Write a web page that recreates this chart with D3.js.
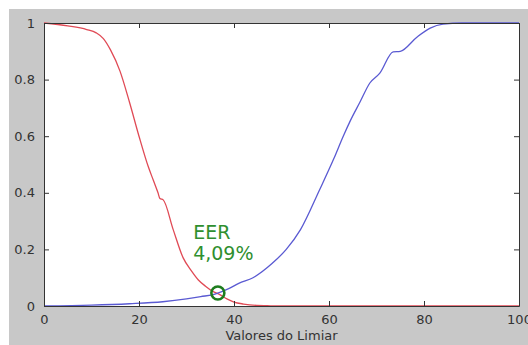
<!DOCTYPE html>
<html lang="en">
<head>
<meta charset="UTF-8">
<script src="https://d3js.org/d3.v7.min.js"></script>
<title>EER</title>
<style>
    body { margin: 0; background: #fff; }
    text { font-family: "DejaVu Sans", sans-serif; }
    .tick text { font-size: 13px; fill: #333; }
</style>
</head>
<body>
<script>
    // curve values
    const redX = [0, 5, 9, 11, 12.5, 14, 16, 18, 20, 22, 23, 24, 24.4, 25.1, 27.2, 29.3, 31, 32.5, 34, 35.5, 37, 38.5, 40, 42, 44.8, 47, 50, 100];
    const redY = [1.0, 0.99, 0.977, 0.965, 0.945, 0.905, 0.83, 0.72, 0.6, 0.49, 0.445, 0.4, 0.38, 0.375, 0.27, 0.17, 0.125, 0.092, 0.07, 0.052, 0.04, 0.025, 0.014, 0.007, 0.002, 0.001, 0, 0];
    const blueX = [0, 10, 18, 25, 30, 33, 36, 39, 41, 44, 48, 51, 54, 58, 61, 63, 64.5, 66.5, 68.6, 70.7, 73.5, 75, 78.5, 81.3, 84, 88, 100];
    const blueY = [0, 0.003, 0.008, 0.015, 0.025, 0.033, 0.042, 0.062, 0.08, 0.1, 0.15, 0.2, 0.27, 0.41, 0.52, 0.6, 0.655, 0.72, 0.788, 0.823, 0.898, 0.9, 0.95, 0.982, 0.996, 1, 1];
    const eerPoint = [36.6, 0.046];
    const eerLines = ["EER", "4,09%"];
    const xTicks = [0, 20, 40, 60, 80, 100];
    const yTicks = [0, 0.2, 0.4, 0.6, 0.8, 1];

    const width = 528, height = 345;
    const margin = { top: 23, right: 9, bottom: 39, left: 44 };

    const svg = d3.select("body").append("svg")
        .attr("width", width)
        .attr("height", height);

    // grey figure background
    svg.append("rect").attr("x", 9).attr("y", 9)
        .attr("width", width - 9).attr("height", height - 9)
        .attr("fill", "#c8c8c8");

    const x = d3.scaleLinear().domain([0, 100]).range([margin.left, width - margin.right]);
    const y = d3.scaleLinear().domain([0, 1]).range([height - margin.bottom, margin.top]);

    svg.append("rect")
        .attr("x", x(0)).attr("y", y(1))
        .attr("width", x(100) - x(0)).attr("height", y(0) - y(1))
        .attr("fill", "#fff");

    const line = d3.line().x(d => x(d[0])).y(d => y(d[1])).curve(d3.curveMonotoneX);

    svg.append("path")
        .datum(redX.map((v, i) => [v, redY[i]]))
        .attr("d", line).attr("fill", "none")
        .attr("stroke", "#e04a55").attr("stroke-width", 1.3);

    svg.append("path")
        .datum(blueX.map((v, i) => [v, blueY[i]]))
        .attr("d", line).attr("fill", "none")
        .attr("stroke", "#5a5ad2").attr("stroke-width", 1.3);

    // axes, ticks inward on all sides
    const axBottom = svg.append("g").attr("transform", `translate(0,${y(0)})`)
        .call(d3.axisBottom(x).tickValues(xTicks).tickSizeInner(-5).tickSizeOuter(0).tickPadding(9));
    const axTop = svg.append("g").attr("transform", `translate(0,${y(1)})`)
        .call(d3.axisTop(x).tickValues(xTicks).tickSizeInner(-5).tickSizeOuter(0).tickFormat(""));
    const axLeft = svg.append("g").attr("transform", `translate(${x(0)},0)`)
        .call(d3.axisLeft(y).tickValues(yTicks).tickSizeInner(-5).tickSizeOuter(0).tickPadding(9).tickFormat(d3.format("~g")));
    const axRight = svg.append("g").attr("transform", `translate(${x(100)},0)`)
        .call(d3.axisRight(y).tickValues(yTicks).tickSizeInner(-5).tickSizeOuter(0).tickFormat(""));

    [axBottom, axTop, axLeft, axRight].forEach(g => {
        g.select(".domain").attr("stroke", "#333");
        g.selectAll(".tick line").attr("stroke", "#333");
    });

    svg.append("text")
        .attr("x", (x(0) + x(100)) / 2).attr("y", 340)
        .attr("text-anchor", "middle")
        .attr("font-size", 13).attr("fill", "#333")
        .text("Valores do Limiar");

    // EER marker and label
    svg.append("circle")
        .attr("cx", x(eerPoint[0])).attr("cy", y(eerPoint[1]))
        .attr("r", 6.5).attr("fill", "none")
        .attr("stroke", "#1e7d1e").attr("stroke-width", 2.6);

    svg.append("g").selectAll("text")
        .data(eerLines).join("text")
        .attr("x", x(31.4))
        .attr("y", (d, i) => y(0.237) + i * 21)
        .attr("font-size", 19).attr("fill", "#2f8f2f")
        .text(d => d);
</script>
</body>
</html>
